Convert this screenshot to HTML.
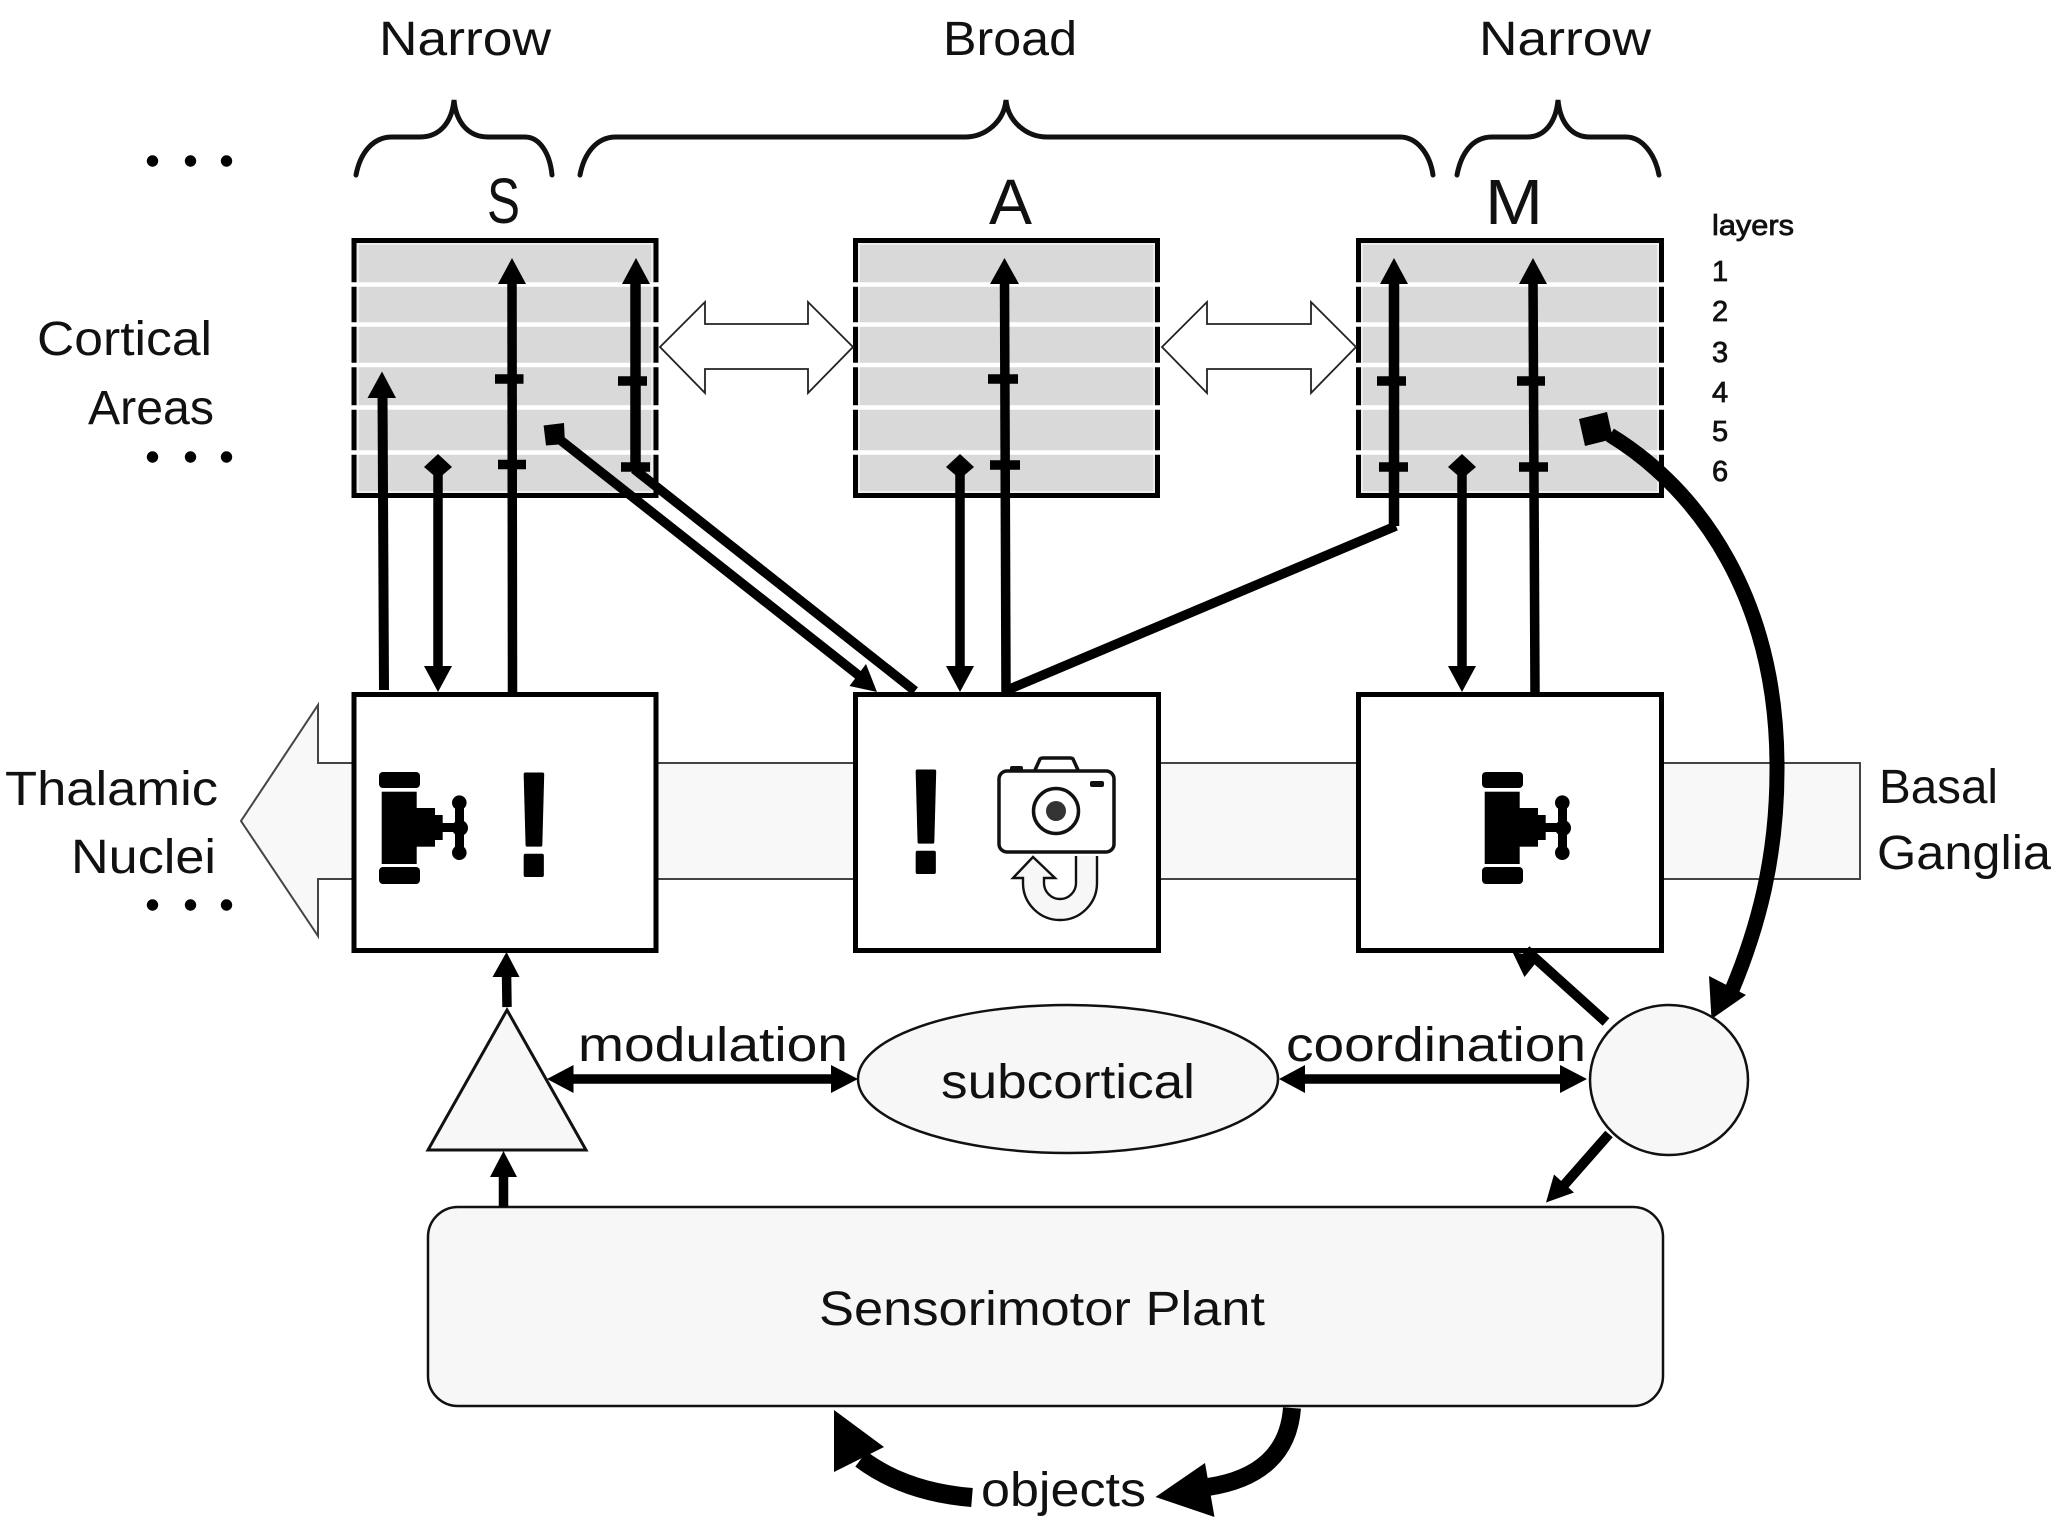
<!DOCTYPE html>
<html><head><meta charset="utf-8"><style>
html,body{margin:0;padding:0;background:#fff}
svg{display:block}
text{font-family:"Liberation Sans",sans-serif;fill:#111;font-size:48px}
.s{font-size:29px;stroke:#111;stroke-width:.8px}
.b{font-size:64px}
.x{font-size:146px;font-weight:bold;fill:#000;stroke:#000;stroke-width:4px;stroke-linejoin:round}
</style></head><body>
<svg width="2055" height="1524" viewBox="0 0 2055 1524" xmlns="http://www.w3.org/2000/svg">
<rect width="2055" height="1524" fill="#fff"/>

<!-- braces -->
<g fill="none" stroke="#111" stroke-width="5" stroke-linecap="round">
<path d="M356 175 C360 154 372 137 392 137 L420 137 C440 137 452 122 454 100 C456 122 468 137 488 137 L525 137 C540 137 550 154 552 175"/>
<path d="M580 175 C584 154 596 137 616 137 L965 137 C985 137 1004 122 1006 100 C1008 122 1027 137 1047 137 L1400 137 C1417 137 1430 154 1433 175"/>
<path d="M1457 175 C1461 154 1472 137 1492 137 L1527 137 C1545 137 1556 122 1558 100 C1560 122 1571 137 1590 137 L1626 137 C1642 137 1655 154 1659 175"/>
</g>
<text x="379" y="55" textLength="172" lengthAdjust="spacingAndGlyphs">Narrow</text>
<text x="943" y="55" textLength="134" lengthAdjust="spacingAndGlyphs">Broad</text>
<text x="1479" y="55" textLength="172" lengthAdjust="spacingAndGlyphs">Narrow</text>
<text class="b" x="487" y="223" textLength="33" lengthAdjust="spacingAndGlyphs">S</text>
<text class="b" x="989" y="224" textLength="43" lengthAdjust="spacingAndGlyphs">A</text>
<text class="b" x="1485" y="224" textLength="58" lengthAdjust="spacingAndGlyphs">M</text>

<!-- ellipsis dots -->
<g fill="#000">
<circle cx="152.5" cy="161" r="5.7"/><circle cx="190.5" cy="161" r="5.7"/><circle cx="226.5" cy="161" r="5.7"/>
<circle cx="152.5" cy="457" r="5.7"/><circle cx="190.5" cy="457" r="5.7"/><circle cx="226.5" cy="457" r="5.7"/>
<circle cx="152.5" cy="905" r="5.7"/><circle cx="190.5" cy="905" r="5.7"/><circle cx="226.5" cy="905" r="5.7"/>
</g>

<!-- side labels -->
<text x="37" y="355" textLength="175" lengthAdjust="spacingAndGlyphs">Cortical</text>
<text x="88" y="424" textLength="126" lengthAdjust="spacingAndGlyphs">Areas</text>
<text x="5" y="805" textLength="213" lengthAdjust="spacingAndGlyphs">Thalamic</text>
<text x="71" y="873" textLength="145" lengthAdjust="spacingAndGlyphs">Nuclei</text>
<text x="1879" y="803" textLength="119" lengthAdjust="spacingAndGlyphs">Basal</text>
<text x="1877" y="869" textLength="174" lengthAdjust="spacingAndGlyphs">Ganglia</text>
<text class="s" x="1712" y="235" textLength="82" lengthAdjust="spacingAndGlyphs">layers</text>
<text class="s" x="1712" y="281">1</text>
<text class="s" x="1712" y="321">2</text>
<text class="s" x="1712" y="362">3</text>
<text class="s" x="1712" y="402">4</text>
<text class="s" x="1712" y="441">5</text>
<text class="s" x="1712" y="481">6</text>

<!-- band -->
<path d="M1860 763 L318 763 L318 705 L241 821 L318 936 L318 879 L1860 879 Z" fill="#f8f8f8" stroke="#444" stroke-width="2"/>

<!-- cortical boxes -->
<g fill="#d9d9d9" stroke="#000" stroke-width="5">
<rect x="354" y="240.5" width="302" height="255"/>
<rect x="855.5" y="240.5" width="302" height="255"/>
<rect x="1358.5" y="240.5" width="303" height="255"/>
</g>
<g fill="none" stroke="#f4f4f4" stroke-width="1.5">
<rect x="358" y="244" width="294" height="248"/>
<rect x="859" y="244" width="295" height="248"/>
<rect x="1362" y="244" width="296" height="248"/>
</g>
<g stroke="#fff" stroke-width="4.5">
<path d="M349 284.5H661M349 324.5H661M349 365H661M349 407.5H661M349 452.5H661"/>
<path d="M851 284.5H1162M851 324.5H1162M851 365H1162M851 407.5H1162M851 452.5H1162"/>
<path d="M1354 284.5H1666M1354 324.5H1666M1354 365H1666M1354 407.5H1666M1354 452.5H1666"/>
</g>

<!-- white double arrows -->
<g fill="#fff" stroke="#222" stroke-width="1.8" stroke-linejoin="miter">
<path d="M660 347 L705 302 L705 324 L808 324 L808 302 L853 347 L808 393 L808 369 L705 369 L705 393 Z"/>
<path d="M1162 347 L1207 302 L1207 324 L1311 324 L1311 302 L1356 347 L1311 393 L1311 369 L1207 369 L1207 393 Z"/>
</g>

<!-- thalamic boxes -->
<g fill="#fff" stroke="#000" stroke-width="5">
<rect x="354" y="694.5" width="302" height="256"/>
<rect x="855.5" y="694.5" width="303" height="256"/>
<rect x="1358.5" y="694.5" width="303" height="256"/>
</g>

<!-- S arrows -->
<g stroke="#000" fill="none">
<path d="M384 690 L382.5 392" stroke-width="10"/>
<path d="M438 470 V670" stroke-width="9.5"/>
<path d="M512.5 692 L512 278" stroke-width="9.5"/>
<path d="M635.5 280 V470" stroke-width="10.5"/>
<path d="M495 379H523.5M498 464.5H526M618 381H647M621 467H650" stroke-width="9.5"/>
<path d="M634 469 L915 691" stroke-width="9.5"/>
<path d="M554 435 L862 678" stroke-width="9.5"/>
</g>
<g fill="#000">
<path d="M367.5 398 L382 371.5 L396 398 Z"/>
<path d="M424 467 L438 454 L452 467 L438 479 Z"/>
<path d="M424 666 H452 L438 692 Z"/>
<path d="M498 284 L512 258 L526 284 Z"/>
<path d="M622 284 L636 258 L650 284 Z"/>
<path d="M543.6 425.5 L564 423 L565 444 L546 445.5 Z"/>
<path d="M877 692 L849.5 686 L866 664 Z"/>
</g>

<!-- A arrows -->
<g stroke="#000" fill="none">
<path d="M960 470 V670" stroke-width="9.5"/>
<path d="M1006 692 L1004.5 278" stroke-width="9.5"/>
<path d="M988 379H1018M990 465H1020" stroke-width="9.5"/>
<path d="M1005 691 L1396 526" stroke-width="9.5"/>
</g>
<g fill="#000">
<path d="M946 467 L960 454 L974 467 L960 479 Z"/>
<path d="M946 666 H974 L960 692 Z"/>
<path d="M990 284 L1004.5 258 L1019 284 Z"/>
</g>

<!-- M arrows -->
<g stroke="#000" fill="none">
<path d="M1394 280 V526" stroke-width="10.5"/>
<path d="M1462 470 V670" stroke-width="9.5"/>
<path d="M1535 692 L1533 278" stroke-width="9.5"/>
<path d="M1377 381H1406M1379 467H1408M1517 381H1545M1519 467H1548" stroke-width="9.5"/>
<path d="M1610 435 C1700 490 1778 600 1777 770 C1777 860 1757 930 1732 990" stroke-width="15"/>
</g>
<g fill="#000">
<path d="M1380 284 L1394 258 L1408 284 Z"/>
<path d="M1448 467 L1462 454 L1476 467 L1462 479 Z"/>
<path d="M1448 666 H1476 L1462 692 Z"/>
<path d="M1519 284 L1533 258 L1547 284 Z"/>
<path d="M1579 419 L1607 412 L1613 439 L1585 446 Z"/>
<path d="M1709 976 L1746 995 L1711.5 1019 Z"/>
</g>

<!-- valve S -->
<g fill="#000">
<rect x="379" y="772" width="41" height="16" rx="4"/>
<rect x="381.7" y="791.7" width="35" height="72.3"/>
<rect x="379" y="867" width="41" height="17" rx="4"/>
<rect x="416.5" y="808" width="18.5" height="38.7"/>
<rect x="435" y="815" width="7.7" height="25"/>
<rect x="442" y="823" width="13" height="9"/>
<rect x="455" y="803" width="9" height="50"/>
<circle cx="459.3" cy="802.7" r="7.3"/>
<circle cx="460" cy="828" r="8"/>
<circle cx="459.3" cy="852.7" r="7.3"/>
</g>
<!-- valve M -->
<g fill="#000" transform="translate(1103 0)">
<rect x="379" y="772" width="41" height="16" rx="4"/>
<rect x="381.7" y="791.7" width="35" height="72.3"/>
<rect x="379" y="867" width="41" height="17" rx="4"/>
<rect x="416.5" y="808" width="18.5" height="38.7"/>
<rect x="435" y="815" width="7.7" height="25"/>
<rect x="442" y="823" width="13" height="9"/>
<rect x="455" y="803" width="9" height="50"/>
<circle cx="459.3" cy="802.7" r="7.3"/>
<circle cx="460" cy="828" r="8"/>
<circle cx="459.3" cy="852.7" r="7.3"/>
</g>

<!-- exclamation marks -->
<text class="x" x="514" y="875" textLength="40" lengthAdjust="spacingAndGlyphs">!</text>
<text class="x" x="906" y="872" textLength="40" lengthAdjust="spacingAndGlyphs">!</text>

<!-- camera -->
<g fill="none" stroke="#111" stroke-width="3.5">
<rect x="999" y="771" width="115" height="81" rx="8"/>
<path d="M1035 770 L1040 759 Q1041 758 1043 758 H1070 Q1072 758 1073 759 L1078 770"/>
<circle cx="1056" cy="811" r="22.5"/>
</g>
<rect x="1010" y="766" width="13" height="6" rx="2" fill="#111"/>
<rect x="1090" y="781" width="14" height="6" rx="2" fill="#111"/>
<circle cx="1056" cy="811" r="10" fill="#333"/>
<!-- u-turn -->
<path d="M1033 857 L1055 878 L1044 878 L1044 883 A16 16 0 0 0 1076 883 L1076 856 L1097 856 L1097 883 A37 37 0 0 1 1023 883 L1023 878 L1013 878 Z" fill="#f7f7f7"/>
<path d="M1076 856 L1076 883 A16 16 0 0 1 1044 883 L1044 878 L1055 878 L1033 857 L1013 878 L1023 878 L1023 883 A37 37 0 0 0 1097 883 L1097 856" fill="none" stroke="#111" stroke-width="2.4"/>

<!-- lower shapes -->
<path d="M507 1010 L586 1150 L428 1150 Z" fill="#f7f7f7" stroke="#111" stroke-width="3"/>
<ellipse cx="1068" cy="1079" rx="210" ry="74" fill="#f7f7f7" stroke="#111" stroke-width="2.5"/>
<ellipse cx="1669" cy="1080" rx="79" ry="75" fill="#f7f7f7" stroke="#111" stroke-width="2.5"/>
<rect x="428" y="1207" width="1235" height="199" rx="30" fill="#f7f7f7" stroke="#111" stroke-width="2.5"/>

<g stroke="#000" fill="none">
<path d="M507 1007 L506.5 972" stroke-width="9.5"/>
<path d="M503.5 1207 V1172" stroke-width="9.5"/>
<path d="M570 1079 H835" stroke-width="9.5"/>
<path d="M1300 1079 H1565" stroke-width="9.5"/>
<path d="M1606 1022 L1526 950" stroke-width="10"/>
<path d="M1609 1134 L1558 1192" stroke-width="10"/>
<path d="M972 1497.5 Q905 1492 861 1459" stroke-width="19"/>
<path d="M1292 1408 Q1287 1475 1208 1487" stroke-width="18"/>
</g>
<g fill="#000">
<path d="M492.5 977 L506.5 952 L519.5 977 Z"/>
<path d="M490 1177 L503.5 1151 L517 1177 Z"/>
<path d="M547 1079 L573.5 1065 V1093 Z"/>
<path d="M858 1079 L831 1065 V1093 Z"/>
<path d="M1279 1079 L1305 1065 V1093 Z"/>
<path d="M1587 1079 L1560 1065 V1093 Z"/>
<path d="M1512.5 952 L1524.5 977 L1540.5 957 Z"/>
<path d="M1546 1202.5 L1554 1174.5 L1574 1192.5 Z"/>
<path d="M834 1410 L834 1472 L884 1447 Z"/>
<path d="M1155.5 1497 L1205 1463 L1214.5 1517 Z"/>
</g>

<text x="578" y="1061" textLength="270" lengthAdjust="spacingAndGlyphs">modulation</text>
<text x="1286" y="1061" textLength="300" lengthAdjust="spacingAndGlyphs">coordination</text>
<text x="941" y="1098" textLength="254" lengthAdjust="spacingAndGlyphs">subcortical</text>
<text x="819" y="1325" textLength="446" lengthAdjust="spacingAndGlyphs">Sensorimotor Plant</text>
<text x="981" y="1506" textLength="165" lengthAdjust="spacingAndGlyphs">objects</text>
</svg>
</body></html>
